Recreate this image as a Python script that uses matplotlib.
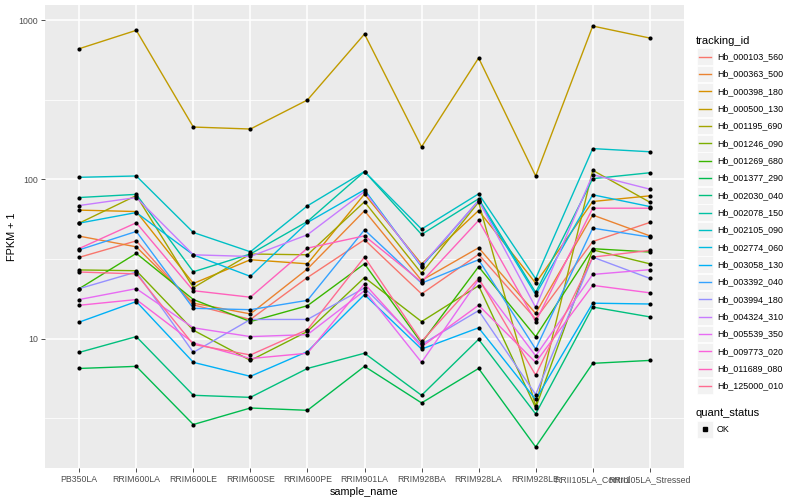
import matplotlib
matplotlib.use("Agg")
import matplotlib.pyplot as plt
import numpy as np
from matplotlib.patches import Rectangle
from matplotlib.lines import Line2D
from matplotlib.ticker import FixedLocator, NullFormatter

plt.rcParams["font.family"] = ["Liberation Sans", "DejaVu Sans"]

samples = ["PB350LA", "RRIM600LA", "RRIM600LE", "RRIM600SE", "RRIM600PE", "RRIM901LA",
           "RRIM928BA", "RRIM928LA", "RRIM928LE", "RRII105LA_Control", "RRII105LA_Stressed"]

tracking_ids = ["Hb_000103_560", "Hb_000363_500", "Hb_000398_180", "Hb_000500_130",
                "Hb_001195_690", "Hb_001246_090", "Hb_001269_680", "Hb_001377_290",
                "Hb_002030_040", "Hb_002078_150", "Hb_002105_090", "Hb_002774_060",
                "Hb_003058_130", "Hb_003392_040", "Hb_003994_180", "Hb_004324_310",
                "Hb_005539_350", "Hb_009773_020", "Hb_011689_080", "Hb_125000_010"]

# ggplot2 hue palette, 20 levels
colors = ["#F8766D", "#EA8331", "#D89000", "#C09B00", "#A3A500", "#7CAE00", "#39B600",
          "#00BB4E", "#00BF7D", "#00C1A3", "#00BFC4", "#00BAE0", "#00B0F6", "#35A2FF",
          "#9590FF", "#C77CFF", "#E76BF3", "#FA62DB", "#FF62BC", "#FF6C91"]

# FPKM + 1 per sample
hb_000103_560 = [32.4, 41.1, 16.3, 13.2, 24.2, 41.8, 19.1, 33.8, 13.3, 40.7, 53.6]
hb_000363_500 = [44.0, 37.7, 16.7, 14.3, 27.4, 63.5, 23.2, 37.2, 14.4, 59.7, 44.2]
hb_000398_180 = [64.1, 62.8, 22.2, 31.3, 29.5, 80.8, 29.4, 63.7, 22.3, 72.6, 78.8]
hb_000500_130 = [661, 862, 213, 207, 315, 817, 160, 578, 105, 917, 771]
hb_001195_690 = [53.1, 79.1, 20.9, 34.0, 33.6, 72.3, 25.7, 71.9, 3.76, 114, 71.9]
hb_001246_090 = [27.0, 26.7, 11.3, 7.3, 11.1, 24.2, 12.8, 21.5, 3.68, 36.1, 29.5]
hb_001269_680 = [20.6, 34.3, 17.6, 12.8, 16.1, 29.5, 9.4, 28.3, 10.3, 36.7, 35.0]
hb_001377_290 = [6.5, 6.7, 2.89, 3.67, 3.55, 6.7, 3.95, 6.5, 2.09, 7.0, 7.3]
hb_002030_040 = [8.2, 10.3, 4.41, 4.28, 6.5, 8.1, 4.41, 9.9, 3.37, 15.8, 13.7]
hb_002078_150 = [76.9, 80.5, 26.3, 34.0, 54.4, 112, 45.1, 75.5, 19.5, 101, 110]
hb_002105_090 = [103, 105, 46.4, 35.1, 68.2, 112, 48.7, 81.1, 23.8, 156, 149]
hb_002774_060 = [53.1, 61.9, 33.6, 24.6, 53.6, 86, 28.3, 73.6, 18.9, 80, 67.5]
hb_003058_130 = [12.7, 17.1, 7.1, 5.8, 8.3, 18.9, 8.6, 11.7, 4.15, 16.7, 16.5]
hb_003392_040 = [36.1, 47.1, 15.5, 15.2, 17.4, 48.2, 22.3, 31.3, 8.6, 49.4, 43.4]
hb_003994_180 = [20.6, 26.2, 8.2, 13.2, 13.2, 20.8, 9.2, 15.0, 4.46, 32.5, 23.9]
hb_004324_310 = [68.5, 76.9, 33.6, 32.8, 44.9, 83.8, 28.7, 73.6, 15.7, 107, 86.8]
hb_005539_350 = [17.6, 20.6, 11.7, 10.3, 10.6, 20.0, 7.1, 23.4, 7.8, 25.3, 27.1]
hb_009773_020 = [16.2, 17.6, 9.4, 7.5, 8.1, 22.1, 8.9, 16.2, 7.1, 21.6, 19.4]
hb_011689_080 = [36.8, 53.4, 20.0, 18.2, 37.0, 44.2, 22.7, 55.2, 12.8, 65.9, 65.9]
hb_125000_010 = [26.2, 25.5, 9.2, 7.9, 11.4, 32.5, 9.6, 23.9, 5.9, 32.5, 35.8]

series = [hb_000103_560, hb_000363_500, hb_000398_180, hb_000500_130, hb_001195_690,
          hb_001246_090, hb_001269_680, hb_001377_290, hb_002030_040, hb_002078_150,
          hb_002105_090, hb_002774_060, hb_003058_130, hb_003392_040, hb_003994_180,
          hb_004324_310, hb_005539_350, hb_009773_020, hb_011689_080, hb_125000_010]

W, H = 800, 500
fig = plt.figure(figsize=(8, 5), dpi=100)
ax = fig.add_axes([45 / W, 1 - 468 / H, (684 - 45) / W, (468 - 5) / H])
ax.set_facecolor("#EBEBEB")

x = np.arange(1, len(samples) + 1)
for vals, col in zip(series, colors):
    ax.plot(x, vals, color=col, lw=1.0, zorder=2)
for vals in series:
    ax.scatter(x, vals, s=9, color="black", zorder=3, linewidths=0)

ax.set_yscale("log")
allv = np.log10(np.concatenate([np.asarray(v, float) for v in series]))
lo, hi = allv.min(), allv.max()
pad = 0.05 * (hi - lo)
ax.set_ylim(10 ** (lo - pad), 10 ** (hi + pad))
ax.set_xlim(0.4, len(samples) + 0.6)

ax.yaxis.set_major_locator(FixedLocator([10, 100, 1000]))
ax.set_yticklabels(["10", "100", "1000"])
ax.yaxis.set_minor_locator(FixedLocator([10 ** 0.5, 10 ** 1.5, 10 ** 2.5]))
ax.yaxis.set_minor_formatter(NullFormatter())
ax.set_xticks(x)
ax.set_xticklabels(samples)

ax.grid(True, which="major", color="white", lw=1.1, zorder=0)
ax.grid(True, which="minor", axis="y", color="white", lw=0.55, zorder=0)
ax.set_axisbelow(True)
for s in ax.spines.values():
    s.set_visible(False)
ax.tick_params(axis="both", which="major", length=3.0, width=0.6, color="#333333",
               labelsize=6.3, labelcolor="#4D4D4D", pad=2)
ax.tick_params(axis="y", which="minor", length=0)

ax.set_xlabel("sample_name", fontsize=7.8, labelpad=2)
ax.set_ylabel("FPKM + 1", fontsize=7.8)
ax.yaxis.set_label_coords((17 - 45) / (684 - 45), 0.5)


def fx(px):
    return px / W


def fy(py):
    return 1 - py / H


# legend: tracking_id
fig.text(fx(696), fy(41), "tracking_id", fontsize=8, va="center", ha="left")
for i, (tid, col) in enumerate(zip(tracking_ids, colors)):
    cy = 56.7 + i * 17.33
    fig.patches.append(Rectangle((fx(697), fy(cy + 8.3)), 16 / W, 16.6 / H,
                                 transform=fig.transFigure, facecolor="#F2F2F2",
                                 edgecolor="white", lw=0.5))
    fig.lines.append(Line2D([fx(699), fx(711)], [fy(cy), fy(cy)], color=col, lw=1.0,
                            transform=fig.transFigure))
    fig.text(fx(717), fy(cy), tid, fontsize=6.4, va="center", ha="left")

# legend: quant_status
fig.text(fx(696), fy(413), "quant_status", fontsize=8, va="center", ha="left")
fig.patches.append(Rectangle((fx(697), fy(429.3 + 8.3)), 16 / W, 16.6 / H,
                             transform=fig.transFigure, facecolor="#F2F2F2",
                             edgecolor="white", lw=0.5))
fig.lines.append(Line2D([fx(705)], [fy(429.3)], marker="s", markersize=2.6, color="black",
                        lw=0, transform=fig.transFigure))
fig.text(fx(717), fy(429.3), "OK", fontsize=6.4, va="center", ha="left")

fig.savefig("out.png", dpi=100)
